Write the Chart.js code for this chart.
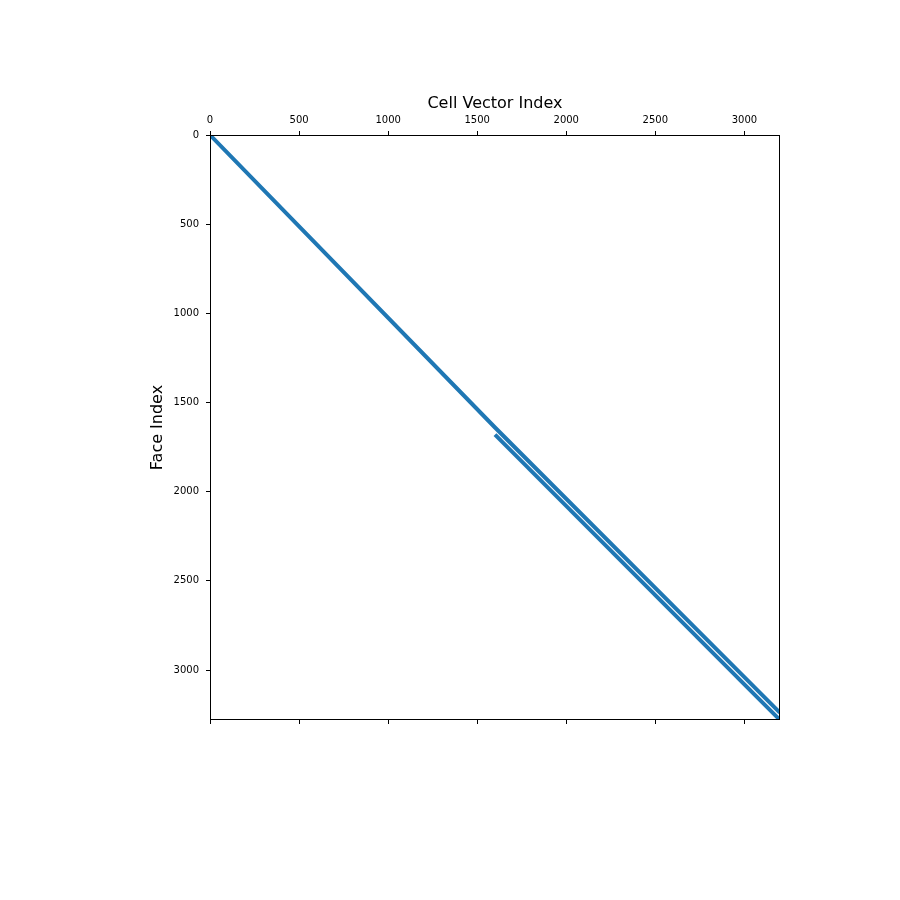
<!DOCTYPE html>
<html>
<head>
<meta charset="utf-8">
<script src="https://cdn.jsdelivr.net/npm/chart.js@4/dist/chart.umd.min.js"></script>
<style>
  html, body { margin: 0; padding: 0; background: #fff; }
  canvas { display: block; }
</style>
</head>
<body>
<canvas id="chart" width="900" height="900"></canvas>
<script>
// ---- sparsity pattern: nonzero bands (column index vs face index) ----
// upper band: x-faces block, then continues as first band of y-faces block
const upperBandCols = [0, 1600, 3199];
const upperBandRows = [0, 1640, 3239];
// lower band: second band of y-faces block
const lowerBandCols = [1600, 3199];
const lowerBandRows = [1680, 3279];

const nCols = 3200;
const nRows = 3280;
const xTickValues = [0, 500, 1000, 1500, 2000, 2500, 3000];
const yTickValues = [0, 500, 1000, 1500, 2000, 2500, 3000];

const BLUE = "#1f77b4";

function toPoints(cols, rows) {
  return cols.map((c, i) => ({ x: c, y: rows[i] }));
}

function setTicks(values) {
  return scale => { scale.ticks = values.map(v => ({ value: v })); };
}

// frame around the plot area
const framePlugin = {
  id: "frame",
  afterDraw(chart) {
    const a = chart.chartArea;
    const c = chart.ctx;
    c.save();
    c.strokeStyle = "#000";
    c.lineWidth = 1;
    c.strokeRect(a.left + 0.5, a.top + 0.5, a.right - a.left - 1, a.bottom - a.top - 1);
    c.restore();
  }
};

const tickFont = { family: "DejaVu Sans", size: 10 };
const titleFont = { family: "DejaVu Sans", size: 16 };

new Chart(document.getElementById("chart").getContext("2d"), {
  type: "scatter",
  data: {
    datasets: [
      {
        data: toPoints(upperBandCols, upperBandRows),
        showLine: true,
        borderColor: BLUE,
        borderWidth: 4,
        pointRadius: 0,
        xAxisID: "x",
        yAxisID: "y"
      },
      {
        data: toPoints(lowerBandCols, lowerBandRows),
        showLine: true,
        borderColor: BLUE,
        borderWidth: 4,
        pointRadius: 0,
        xAxisID: "x",
        yAxisID: "y"
      }
    ]
  },
  options: {
    responsive: false,
    animation: false,
    layout: { padding: { top: 94, left: 148, right: 120, bottom: 0 } },
    plugins: {
      legend: { display: false },
      tooltip: { enabled: false }
    },
    scales: {
      x: {
        type: "linear",
        position: "top",
        min: 0,
        max: nCols,
        afterBuildTicks: setTicks(xTickValues),
        afterFit: s => { s.height = 41; },
        ticks: { color: "#000", font: tickFont, padding: 5, maxRotation: 0, autoSkip: false, callback: v => String(v) },
        grid: { drawOnChartArea: false, drawTicks: true, tickLength: 4, color: "#000" },
        border: { display: false },
        title: { display: true, text: "Cell Vector Index", color: "#000", font: titleFont, padding: { top: 0, bottom: 2 } }
      },
      xb: {
        type: "linear",
        position: "bottom",
        min: 0,
        max: nCols,
        afterBuildTicks: setTicks(xTickValues),
        afterFit: s => { s.height = 180; },
        ticks: { display: false, autoSkip: false },
        grid: { drawOnChartArea: false, drawTicks: true, tickLength: 4, color: "#000" },
        border: { display: false }
      },
      y: {
        type: "linear",
        position: "left",
        reverse: true,
        min: 0,
        max: nRows,
        afterBuildTicks: setTicks(yTickValues),
        afterFit: s => { s.width = 62; },
        ticks: { color: "#000", font: tickFont, padding: 7, autoSkip: false, callback: v => String(v) },
        grid: { drawOnChartArea: false, drawTicks: true, tickLength: 4, color: "#000" },
        border: { display: false },
        title: { display: true, text: "Face Index", color: "#000", font: titleFont, padding: { top: 0, bottom: 0 } }
      }
    }
  },
  plugins: [framePlugin]
});
</script>
</body>
</html>
